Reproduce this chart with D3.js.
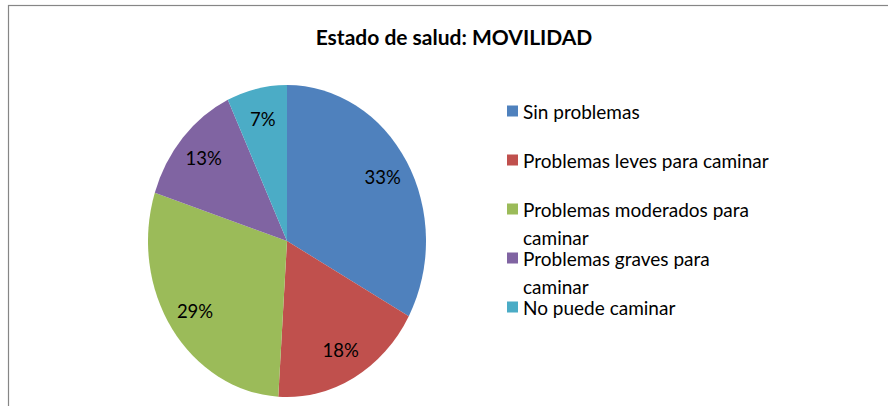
<!DOCTYPE html>
<html>
<head>
<meta charset="utf-8">
<script src="https://cdn.jsdelivr.net/npm/d3@7"></script>
<style>
  html, body { margin: 0; padding: 0; background: #fff; }
  svg { display: block; }
  text { font-family: Lato, "Open Sans", sans-serif; fill: #000; }
</style>
</head>
<body>
<svg id="chart" width="888" height="406"></svg>
<script>
const title = "Estado de salud: MOVILIDAD";
const categories = ["Sin problemas", "Problemas leves para caminar", "Problemas moderados para caminar", "Problemas graves para caminar", "No puede caminar"];
const legendLines = [["Sin problemas"], ["Problemas leves para caminar"], ["Problemas moderados para", "caminar"], ["Problemas graves para", "caminar"], ["No puede caminar"]];
const values = [33, 18, 29, 13, 7];
const colors = ["#4F81BD", "#C0504D", "#9BBB59", "#8064A2", "#4BACC6"];

const svg = d3.select("#chart");
const W = 888, H = 406;

svg.append("rect").attr("width", W).attr("height", H).attr("fill", "#fff");
svg.append("rect")
  .attr("x", 8.5).attr("y", 5.5).attr("width", W + 20).attr("height", H + 20)
  .attr("fill", "none").attr("stroke", "#868686").attr("stroke-width", 1.2);

svg.append("text")
  .attr("x", 454).attr("y", 45)
  .attr("text-anchor", "middle")
  .attr("font-size", 21).attr("font-weight", "bold")
  .text(title);

const cx = 287, cy = 241, rx = 139, ry = 156;
const sy = ry / rx;

const pie = d3.pie().sort(null).value(d => d);
const arcs = pie(values);
const arc = d3.arc().innerRadius(0).outerRadius(rx);
const labelArc = d3.arc().innerRadius(rx * 0.8).outerRadius(rx * 0.8);

const g = svg.append("g").attr("transform", `translate(${cx},${cy})`);
g.append("g").attr("transform", `scale(1,${sy})`)
  .selectAll("path").data(arcs).join("path")
  .attr("d", arc)
  .attr("fill", (d, i) => colors[i]);

g.selectAll("text.lbl").data(arcs).join("text")
  .attr("class", "lbl")
  .attr("x", d => labelArc.centroid(d)[0])
  .attr("y", d => labelArc.centroid(d)[1] * sy)
  .attr("text-anchor", "middle")
  .attr("dominant-baseline", "central")
  .attr("font-size", 18.5)
  .text(d => d.data + "%");

const ly = d3.scalePoint().domain(categories).range([111, 307]);
const leg = svg.append("g");
const items = leg.selectAll("g").data(categories).join("g")
  .attr("transform", d => `translate(507,${ly(d)})`);
items.append("rect")
  .attr("x", 0).attr("y", -5.5).attr("width", 11).attr("height", 11)
  .attr("fill", (d, i) => colors[i]);
items.append("text")
  .attr("x", 16).attr("y", 0)
  .attr("font-size", 19)
  .selectAll("tspan").data((d, i) => legendLines[i]).join("tspan")
  .attr("x", 16)
  .attr("y", (d, j) => j * 28)
  .attr("dominant-baseline", "central")
  .text(d => d);
</script>
</body>
</html>
